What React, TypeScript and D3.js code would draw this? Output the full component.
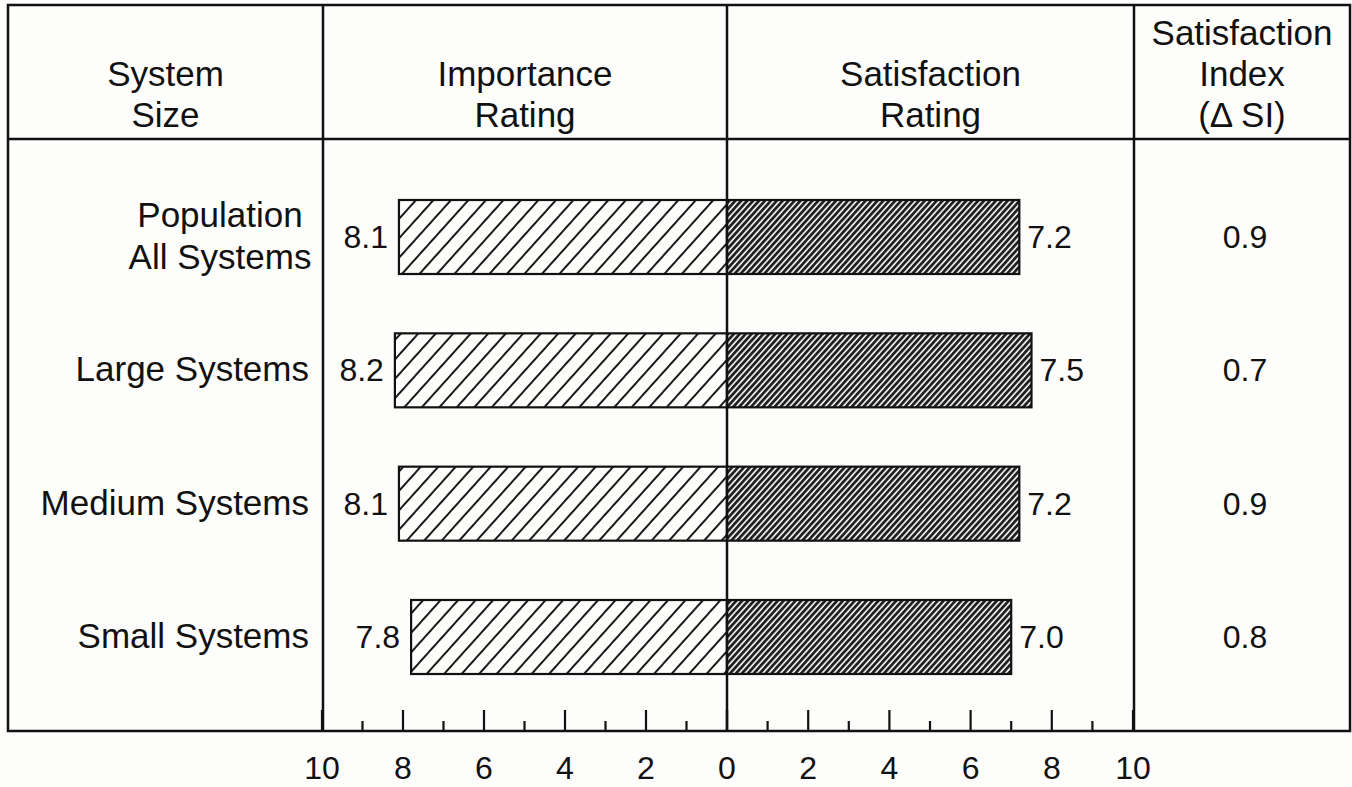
import * as d3 from 'd3'
import { useEffect, useRef } from 'react'

// table rows, top to bottom
const systemSizes = ['Population All Systems', 'Large Systems', 'Medium Systems', 'Small Systems']
const sizeLabelLines = [['Population', 'All Systems'], ['Large Systems'], ['Medium Systems'], ['Small Systems']]
const importance = [8.1, 8.2, 8.1, 7.8]
const satisfaction = [7.2, 7.5, 7.2, 7.0]
const satisfactionIndex = [0.9, 0.7, 0.9, 0.8]
const axisTicks = [0, 2, 4, 6, 8, 10]
const minorTicks = [1, 3, 5, 7, 9]
const columnHeaders = [['System', 'Size'], ['Importance', 'Rating'], ['Satisfaction', 'Rating'], ['Satisfaction', 'Index', '(Δ SI)']]

const W = 1352
const H = 787
const FONT = '"Liberation Sans", Arial, sans-serif'

const App = () => {
  const ref = useRef<SVGSVGElement>(null)

  useEffect(() => {
    draw()
  }, [])

  const draw = () => {
    const svg = d3.select(ref.current)
    svg.selectAll('*').remove()

    const box = { left: 8, right: 1350, top: 5, header: 139, bottom: 731 }
    const cols = [box.left, 323, 727, 1134, box.right]

    const xL = d3.scaleLinear().domain([0, 10]).range([727, 322])
    const xR = d3.scaleLinear().domain([0, 10]).range([727, 1133])
    const y = d3.scalePoint<string>().domain(systemSizes).range([237, 637])
    const barH = 74

    svg.append('rect').attr('width', W).attr('height', H).attr('fill', '#fdfdfb')

    // hatch patterns
    const defs = svg.append('defs')
    const light = defs.append('pattern').attr('id', 'hatchLight').attr('patternUnits', 'userSpaceOnUse')
      .attr('width', 13).attr('height', 13).attr('patternTransform', 'rotate(42)')
    light.append('rect').attr('width', 13).attr('height', 13).attr('fill', '#fdfdfb')
    light.append('line').attr('x1', 1).attr('x2', 1).attr('y1', 0).attr('y2', 13)
      .attr('stroke', '#1a1a1a').attr('stroke-width', 2)
    const dense = defs.append('pattern').attr('id', 'hatchDense').attr('patternUnits', 'userSpaceOnUse')
      .attr('width', 4.4).attr('height', 4.4).attr('patternTransform', 'rotate(42)')
    dense.append('rect').attr('width', 4.4).attr('height', 4.4).attr('fill', '#1e1e1e')
    dense.append('line').attr('x1', 1).attr('x2', 1).attr('y1', 0).attr('y2', 4.4)
      .attr('stroke', '#fdfdfb').attr('stroke-width', 1.6)

    // bars
    svg.selectAll('.imp').data(importance).enter().append('rect').attr('class', 'imp')
      .attr('x', d => xL(d)).attr('y', (d, i) => (y(systemSizes[i]) as number) - barH / 2)
      .attr('width', d => xL(0) - xL(d)).attr('height', barH)
      .attr('fill', 'url(#hatchLight)').attr('stroke', '#111').attr('stroke-width', 2.2)
    svg.selectAll('.sat').data(satisfaction).enter().append('rect').attr('class', 'sat')
      .attr('x', xR(0)).attr('y', (d, i) => (y(systemSizes[i]) as number) - barH / 2)
      .attr('width', d => xR(d) - xR(0)).attr('height', barH)
      .attr('fill', 'url(#hatchDense)').attr('stroke', '#111').attr('stroke-width', 2.2)

    // grid lines of the table
    const g = svg.append('g').attr('stroke', '#111').attr('stroke-width', 2.5).attr('fill', 'none')
    g.append('rect').attr('x', box.left).attr('y', box.top)
      .attr('width', box.right - box.left).attr('height', box.bottom - box.top)
    g.append('line').attr('x1', box.left).attr('x2', box.right).attr('y1', box.header).attr('y2', box.header)
    cols.slice(1, 4).forEach(c => {
      g.append('line').attr('x1', c).attr('x2', c).attr('y1', box.top).attr('y2', box.bottom)
    })

    // axis ticks pointing up from the bottom line
    const tickG = svg.append('g').attr('stroke', '#111').attr('stroke-width', 2.2)
    ;[xL, xR].forEach(sc => {
      axisTicks.forEach(t => {
        tickG.append('line').attr('x1', sc(t)).attr('x2', sc(t)).attr('y1', box.bottom).attr('y2', box.bottom - 21)
      })
      minorTicks.forEach(t => {
        tickG.append('line').attr('x1', sc(t)).attr('x2', sc(t)).attr('y1', box.bottom).attr('y2', box.bottom - 10)
      })
    })

    const text = svg.append('g').attr('font-family', FONT).attr('fill', '#111')

    // tick labels
    const tickLabels = [...axisTicks.slice(1).reverse().map(t => ({ x: xL(t), t })), { x: xL(0), t: 0 },
      ...axisTicks.slice(1).map(t => ({ x: xR(t), t }))]
    text.selectAll('.tick').data(tickLabels).enter().append('text').attr('class', 'tick')
      .attr('x', d => d.x).attr('y', 779).attr('text-anchor', 'middle').attr('font-size', 32)
      .text(d => d.t)

    // headers
    const headerBase = [45, 86, 127]
    columnHeaders.forEach((lines, ci) => {
      const cx = (cols[ci] + cols[ci + 1]) / 2
      lines.forEach((ln, li) => {
        text.append('text').attr('x', cx).attr('y', headerBase[3 - lines.length + li])
          .attr('text-anchor', 'middle').attr('font-size', 35).text(ln)
      })
    })

    // row labels
    sizeLabelLines.forEach((lines, i) => {
      const cy = y(systemSizes[i]) as number
      if (lines.length === 1) {
        text.append('text').attr('x', 309).attr('y', cy + 11).attr('text-anchor', 'end')
          .attr('font-size', 35).text(lines[0])
      } else {
        lines.forEach((ln, li) => {
          text.append('text').attr('x', 220).attr('y', cy - 10 + li * 42).attr('text-anchor', 'middle')
            .attr('font-size', 35).text(ln)
        })
      }
    })

    // value labels
    text.selectAll('.impv').data(importance).enter().append('text').attr('class', 'impv')
      .attr('x', d => xL(d) - 11).attr('y', (d, i) => (y(systemSizes[i]) as number) + 11)
      .attr('text-anchor', 'end').attr('font-size', 32).text(d => d.toFixed(1))
    text.selectAll('.satv').data(satisfaction).enter().append('text').attr('class', 'satv')
      .attr('x', d => xR(d) + 8).attr('y', (d, i) => (y(systemSizes[i]) as number) + 11)
      .attr('font-size', 32).text(d => d.toFixed(1))
    text.selectAll('.si').data(satisfactionIndex).enter().append('text').attr('class', 'si')
      .attr('x', 1245).attr('y', (d, i) => (y(systemSizes[i]) as number) + 11)
      .attr('text-anchor', 'middle').attr('font-size', 32).text(d => d.toFixed(1))
  }

  return (
    <svg ref={ref} width={W} height={H} style={{ position: 'absolute', left: 0, top: 0 }} />
  )
}

export default App
